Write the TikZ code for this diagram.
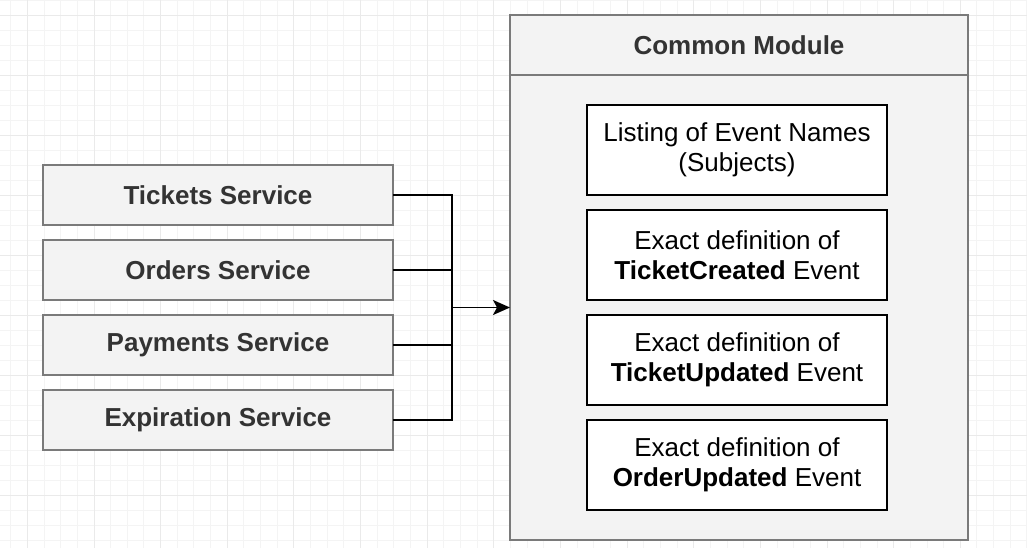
\documentclass[tikz,border=0pt]{standalone}
\usepackage{fontspec}
\setmainfont{Liberation Sans}
\usetikzlibrary{positioning, arrows.meta}
\definecolor{boxgray}{HTML}{F3F3F3}
\definecolor{edgegray}{HTML}{7A7A7A}
\definecolor{textgray}{HTML}{333333}
\definecolor{gridminor}{HTML}{F4F4F4}
\definecolor{gridmajor}{HTML}{EAEAEA}
\tikzstyle{service_node} = [rectangle, minimum width=350pt, minimum height=60pt, outer sep=0pt, text centered, draw=edgegray, fill=boxgray, line width=1.5pt, text=textgray, font=\fontsize{26}{30}\selectfont\bfseries]
\tikzstyle{module_node} = [rectangle, minimum width=458pt, minimum height=525pt, outer sep=0pt, draw=edgegray, fill=boxgray, line width=1.5pt]
\tikzstyle{module_head} = [rectangle, minimum width=458pt, minimum height=60pt, outer sep=0pt, text centered, draw=edgegray, line width=1.5pt, text=textgray, font=\fontsize{26}{30}\selectfont\bfseries]
\tikzstyle{event_node} = [rectangle, minimum width=300pt, minimum height=90pt, outer sep=0pt, align=center, draw=black, fill=white, line width=1.5pt, font=\fontsize{26}{30}\selectfont]
\tikzstyle{link} = [line width=1.6pt]
\tikzstyle{arrow} = [line width=1.6pt, -{Stealth[length=17pt,width=15pt,inset=4pt]}]

\begin{document}
\begin{tikzpicture}[x=1pt, y=-1pt, node distance=15pt]
        \useasboundingbox (0,0) rectangle (1027,548);
        % background grid
        \foreach \i in {0,...,61} \draw[gridminor, line width=0.8pt] (10.6+16.66*\i,0) -- (10.6+16.66*\i,548);
        \foreach \j in {0,...,36} \draw[gridminor, line width=0.8pt] (0,15*\j) -- (1027,15*\j);
        \foreach \i in {0,...,15} \draw[gridmajor, line width=0.8pt] (27.3+66.64*\i,0) -- (27.3+66.64*\i,548);
        \foreach \j in {0,...,9} \draw[gridmajor, line width=0.8pt] (0,15+60*\j) -- (1027,15+60*\j);

        \node(tickets) [service_node] at (218,195) {Tickets Service};
        \node(orders) [service_node, below=of tickets] {Orders Service};
        \node(payments) [service_node, below=of orders] {Payments Service};
        \node(expiration) [service_node, below=of payments] {Expiration Service};

        \node(common) [module_node] at (739,277.5) {};
        \node(title) [module_head, below=0pt of common.north] {Common Module};

        \node(names) [event_node] at (737,150) {Listing of Event Names\\(Subjects)};
        \node(created) [event_node, below=of names] {Exact definition of\\\textbf{TicketCreated} Event};
        \node(updated) [event_node, below=of created] {Exact definition of\\\textbf{TicketUpdated} Event};
        \node(order) [event_node, below=of updated] {Exact definition of\\\textbf{OrderUpdated} Event};

        \coordinate(bus) at (452,307.5);
        \draw[link] (tickets.east) -| (bus);
        \draw[link] (orders.east) -| (bus);
        \draw[link] (payments.east) -| (bus);
        \draw[link] (expiration.east) -| (bus);
        \draw[arrow] (bus) -- (bus -| common.west);
\end{tikzpicture}
\end{document}
